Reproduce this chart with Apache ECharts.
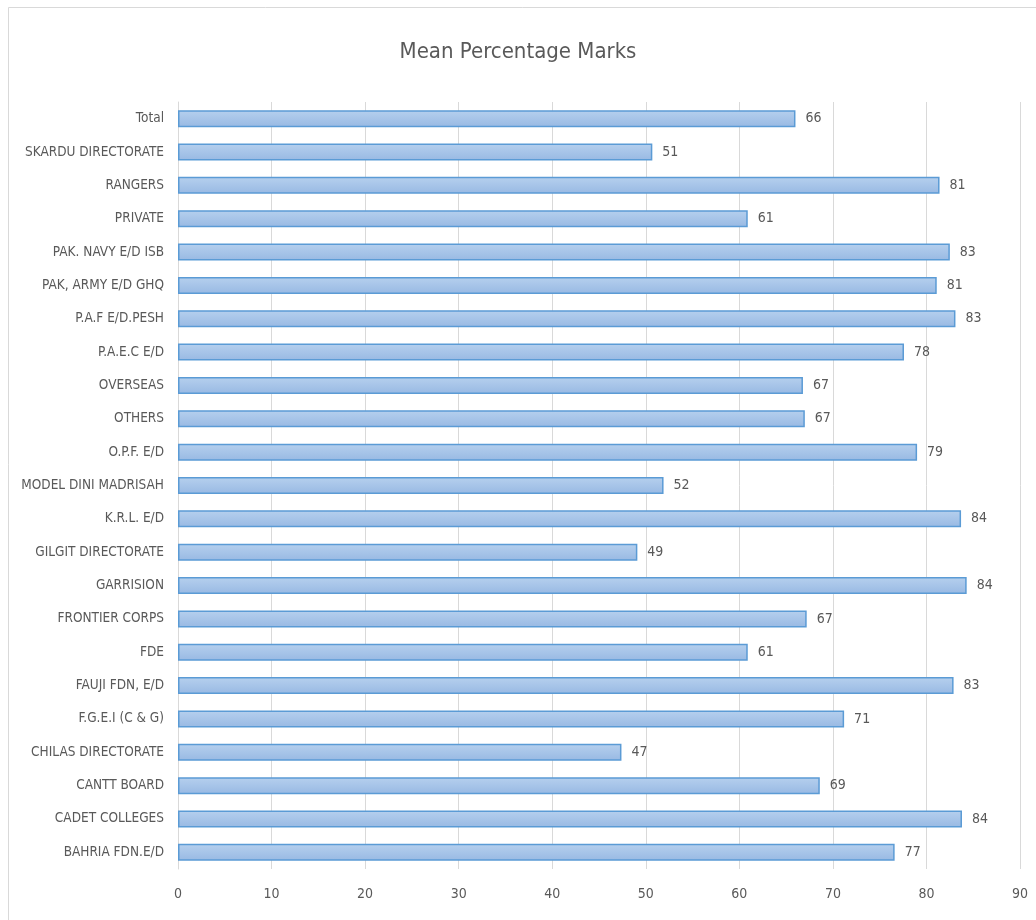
<!DOCTYPE html>
<html>
<head>
<meta charset="utf-8">
<script src="https://cdn.jsdelivr.net/npm/echarts@6/dist/echarts.min.js"></script>
<style>html,body{margin:0;padding:0;background:#fff}#c{width:1036px;height:920px}</style>
</head>
<body>
<div id="c"></div>
<script>
const categories = ["BAHRIA FDN.E/D","CADET COLLEGES","CANTT BOARD","CHILAS DIRECTORATE","F.G.E.I (C & G)","FAUJI FDN, E/D","FDE","FRONTIER CORPS","GARRISION","GILGIT DIRECTORATE","K.R.L. E/D","MODEL DINI MADRISAH","O.P.F. E/D","OTHERS","OVERSEAS","P.A.E.C E/D","P.A.F E/D.PESH","PAK, ARMY E/D GHQ","PAK. NAVY E/D ISB","PRIVATE","RANGERS","SKARDU DIRECTORATE","Total"];
const meanMarks = [76.6,83.8,68.6,47.4,71.2,82.9,60.9,67.2,84.3,49.1,83.7,51.9,79.0,67.0,66.8,77.6,83.1,81.1,82.5,60.9,81.4,50.7,66.0];
const xTicks = [0,10,20,30,40,50,60,70,80,90];

const FONT = '"Liberation Sans Narrow","DejaVu Sans Condensed","Noto Sans",sans-serif';
const chart = echarts.init(document.getElementById('c'));
chart.setOption({
  animation:false,
  backgroundColor:'#fff',
  title:{text:'Mean Percentage Marks',left:'center',top:36,
    textStyle:{fontFamily:FONT,fontSize:22,fontWeight:'normal',color:'#595959'}},
  graphic:[{type:'rect',shape:{x:8.5,y:7.5,width:1040,height:930},
    style:{fill:'none',stroke:'#d9d9d9',lineWidth:1},silent:true}],
  grid:{left:178,right:16,top:102,bottom:51,containLabel:false},
  xAxis:{type:'value',min:xTicks[0],max:xTicks[xTicks.length-1],interval:10,
    axisLine:{show:false},axisTick:{show:false},
    axisLabel:{fontFamily:FONT,fontSize:14,color:'#595959',margin:18},
    splitLine:{lineStyle:{color:'#d9d9d9',width:1}}},
  yAxis:{type:'category',data:categories,
    axisLine:{show:true,lineStyle:{color:'#d9d9d9'}},axisTick:{show:false},
    axisLabel:{fontFamily:FONT,fontSize:13.5,color:'#595959',margin:14}},
  series:[{type:'bar',data:meanMarks,barWidth:17,
    itemStyle:{color:new echarts.graphic.LinearGradient(0,0,0,1,[
      {offset:0,color:'#b6d0ee'},{offset:1,color:'#98b9e3'}]),
      borderColor:'#5b9bd5',borderWidth:1.5},
    label:{show:true,position:'right',distance:10,fontFamily:FONT,fontSize:14,color:'#595959',
      formatter:p=>Math.round(p.value)}}]
});
</script>
</body>
</html>
